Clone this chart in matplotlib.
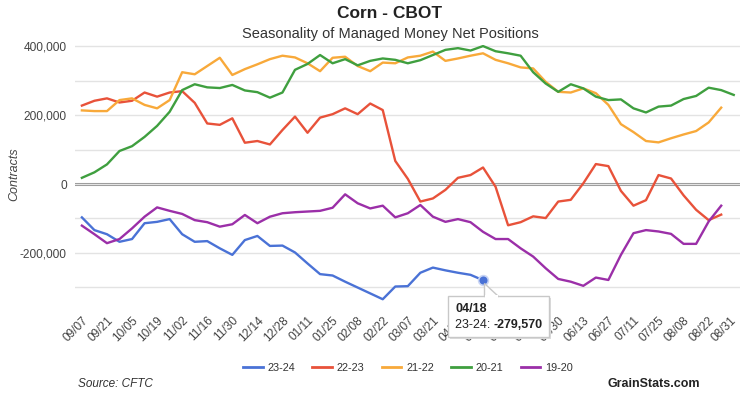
import matplotlib
matplotlib.use("Agg")
import matplotlib.pyplot as plt
from matplotlib import font_manager
from matplotlib.ticker import FuncFormatter, MultipleLocator
from matplotlib.patches import Rectangle, Polygon
from matplotlib.transforms import IdentityTransform

# ---------------- data ----------------
week_labels = ["09/07", "09/21", "10/05", "10/19", "11/02", "11/16", "11/30", "12/14",
               "12/28", "01/11", "01/25", "02/08", "02/22", "03/07", "03/21", "04/04",
               "04/18", "05/02", "05/16", "05/30", "06/13", "06/27", "07/11", "07/25",
               "08/08", "08/22"]
end_label = "08/31"

s_23_24 = [-97, -134, -146, -168, -160, -114, -110, -102, -146, -168, -166, -187, -206,
           -163, -151, -180, -179, -199, -231, -262, -266, -284, -301, -318, -335, -298,
           -297, -258, -243, -251, -258, -264, -279.57]
s_22_23 = [228, 242, 249, 237, 242, 266, 254, 266, 270, 236, 176, 172, 191, 120, 125, 115,
           157, 196, 149, 193, 203, 220, 203, 234, 215, 67, 15, -51, -42, -17, 18, 26, 48,
           -8, -120, -111, -94, -99, -51, -46, 2, 58, 52, -20, -63, -47, 26, 16, -33, -75,
           -105, -89]
s_21_22 = [214, 212, 212, 244, 249, 230, 220, 244, 325, 319, 343, 367, 317, 334, 348, 363,
           373, 368, 351, 328, 367, 370, 343, 328, 353, 351, 368, 373, 385, 358, 365, 373,
           380, 361, 351, 339, 336, 297, 268, 266, 278, 264, 230, 174, 151, 125, 121, 133,
           144, 154, 179, 222]
s_20_21 = [18, 34, 57, 96, 110, 137, 169, 210, 273, 290, 281, 279, 288, 272, 267, 251, 266,
           332, 349, 375, 351, 363, 345, 358, 365, 361, 351, 360, 375, 390, 395, 388, 401,
           386, 380, 373, 325, 292, 268, 290, 278, 254, 244, 246, 220, 208, 225, 228, 247,
           256, 280, 273, 259]
s_19_20 = [-121, -146, -172, -160, -129, -95, -68, -78, -87, -105, -111, -124, -117, -90,
           -114, -95, -85, -82, -80, -78, -69, -30, -56, -71, -63, -97, -85, -61, -95, -110,
           -102, -111, -139, -160, -160, -187, -211, -245, -276, -284, -296, -272, -279, -206,
           -143, -134, -138, -145, -174, -174, -109, -63]

series_names = ["23-24", "22-23", "21-22", "20-21", "19-20"]
series_vals = [s_23_24, s_22_23, s_21_22, s_20_21, s_19_20]
series_colors = ["#4a72d6", "#e8523a", "#f8a93a", "#3f9f3f", "#9b2fa8"]
SCALE = 1000  # values above are in thousands of contracts

tooltip_date = "04/18"

# ---------------- fonts ----------------
avail = {f.name for f in font_manager.fontManager.ttflist}
narrow = "Liberation Sans Narrow" if "Liberation Sans Narrow" in avail else "Liberation Sans"
base = "Liberation Sans" if "Liberation Sans" in avail else "DejaVu Sans"
plt.rcParams["font.family"] = [base, "DejaVu Sans"]

W, H = 742, 394
fig = plt.figure(figsize=(W / 100, H / 100), dpi=100)
ax_left, ax_right, ax_top, ax_bot = 75, 740, 44.7, 304.4
ax = fig.add_axes([ax_left / W, 1 - ax_bot / H, (ax_right - ax_left) / W, (ax_bot - ax_top) / H])

for name, vals, col in zip(series_names, series_vals, series_colors):
    xs = list(range(len(vals)))
    ys = [v * SCALE for v in vals]
    ax.plot(xs, ys, color=col, lw=1.7, label=name, solid_joinstyle="round", zorder=3)

ax.set_ylim(-350000, 405000)
x_right = 52.5
ax.set_xlim(-0.55, x_right)

# grid
ax.yaxis.set_major_locator(MultipleLocator(100000))
ax.yaxis.set_major_formatter(FuncFormatter(
    lambda v, p: f"{int(round(v)):,}" if round(v) % 200000 == 0 else ""))
ax.grid(axis="y", color="#e3e3e3", lw=1.0, zorder=0)
ax.axhline(0, color="#8e8e8e", lw=2.2, zorder=1)
for s in ax.spines.values():
    s.set_visible(False)

tick_pos = list(range(0, 2 * len(week_labels), 2)) + [x_right - 0.8]
ax.set_xticks(tick_pos)
ax.set_xticklabels(week_labels + [end_label], rotation=45, ha="right",
                   rotation_mode="anchor", fontsize=8.6, color="#444444")
ax.tick_params(axis="x", length=0, pad=7)
ax.tick_params(axis="y", length=0, pad=6, labelsize=8.6, labelcolor="#444444")

ax.set_ylabel("Contracts", fontsize=9, style="italic", color="#444444", labelpad=6)
ax.yaxis.set_label_coords(-0.082, 0.5)

# titles
fig.text(390 / W, 1 - 14 / H, "Corn - CBOT", ha="center", va="center", fontsize=12.5,
         fontweight="bold", color="#222222", family=[narrow, "DejaVu Sans"])
fig.text(390 / W, 1 - 34 / H, "Seasonality of Managed Money Net Positions", ha="center",
         va="center", fontsize=10.5, color="#333333", family=[narrow, "DejaVu Sans"])

# legend
leg = fig.legend(loc="center", bbox_to_anchor=(408 / W, 1 - 368 / H), ncol=5, frameon=False,
                 fontsize=7.8, handlelength=1.8, handletextpad=0.45, columnspacing=1.6)
for t in leg.get_texts():
    t.set_color("#333333")
for l in leg.get_lines():
    l.set_linewidth(2.0)

fig.text(78 / W, 1 - 384 / H, "Source: CFTC", ha="left", va="center", fontsize=8.5,
         style="italic", color="#333333", family=[narrow, "DejaVu Sans"])
fig.text(700 / W, 1 - 384 / H, "GrainStats.com", ha="right", va="center", fontsize=9,
         fontweight="bold", color="#222222", family=[narrow, "DejaVu Sans"])

# tooltip
ti = week_labels.index(tooltip_date) * 2
tv = s_23_24[ti] * SCALE
ax.plot([ti], [tv], "o", color=series_colors[0], ms=7, mec="#c8d4f4", mew=1.2, zorder=5)
fig.canvas.draw()
px, py = ax.transData.transform((ti, tv))
idt = IdentityTransform()
shadow = Rectangle((px - 33, py - 59), 101, 41, transform=idt, facecolor="#dddddd",
                   edgecolor="none", zorder=6)
box = Rectangle((px - 35, py - 57), 101, 41, transform=idt, facecolor="white",
                edgecolor="#c8c8c8", lw=1, zorder=7)
tail = Polygon([(px + 1, py - 3), (px + 1, py - 16), (px + 15, py - 16)], closed=True,
               transform=idt, facecolor="white", edgecolor="#c8c8c8", lw=1, zorder=7)
fig.patches.extend([shadow, box, tail])
cover = Rectangle((px + 1.5, py - 17.5), 13, 2.5, transform=idt, facecolor="white",
                  edgecolor="none", zorder=8)
fig.patches.append(cover)
fig.text((px - 28) / W, (py - 29) / H, tooltip_date, ha="left", va="center",
         fontsize=9, fontweight="bold", color="#222222", zorder=9)
t1 = fig.text((px - 28) / W, (py - 45) / H, "23-24: ", ha="left", va="center",
              fontsize=9, color="#222222", zorder=9)
fig.canvas.draw()
bb = t1.get_window_extent()
fig.text(bb.x1 / W, (py - 45) / H, f"{int(round(tv)):,}", ha="left", va="center",
         fontsize=9, fontweight="bold", color="#222222", zorder=9)

fig.savefig("out.png", dpi=100)
